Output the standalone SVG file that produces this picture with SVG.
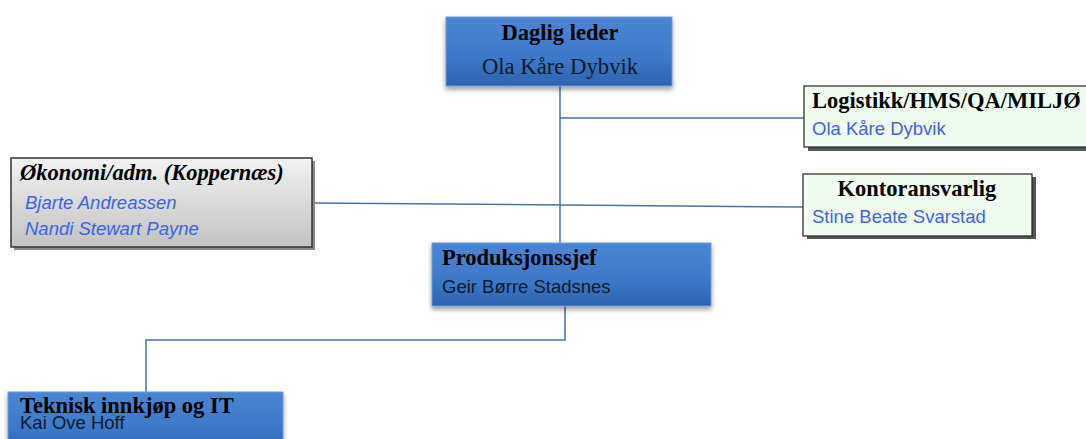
<svg xmlns="http://www.w3.org/2000/svg" width="1086" height="439" viewBox="0 0 1086 439">
<defs>
<linearGradient id="blue" x1="0" y1="0" x2="0" y2="1">
<stop offset="0" stop-color="#4b86d2"/>
<stop offset="0.6" stop-color="#3d78c8"/>
<stop offset="1" stop-color="#2d62ae"/>
</linearGradient>
<linearGradient id="gray" x1="0" y1="0" x2="0" y2="1">
<stop offset="0" stop-color="#f2f2f2"/>
<stop offset="1" stop-color="#c2c2c2"/>
</linearGradient>
<filter id="soft" x="-10%" y="-10%" width="120%" height="140%">
<feGaussianBlur in="SourceAlpha" stdDeviation="2.5"/>
<feOffset dx="0" dy="3" result="b"/>
<feComponentTransfer><feFuncA type="linear" slope="0.4"/></feComponentTransfer>
<feMerge><feMergeNode/><feMergeNode in="SourceGraphic"/></feMerge>
</filter>
</defs>
<style>
.bluebox{fill:url(#blue);stroke:#6f9ad6;stroke-width:1;filter:url(#soft)}
.greenbox{fill:#f0fcef;stroke:#222;stroke-width:1.2}
.graybox{fill:url(#gray);stroke:#333;stroke-width:1.5}
.shadow{fill:#555}
.gshadow{fill:#888}
.title{font-family:"Liberation Serif","Times New Roman",serif;font-weight:bold;font-size:22.5px;fill:#000}
.serif{font-family:"Liberation Serif","Times New Roman",serif;font-size:22.7px;fill:#0d1a30}
.sans{font-family:"Liberation Sans",Arial,sans-serif;font-size:18.5px}
.dark{fill:#0d1a30}
.bluet{fill:#3f63e6}
.conn{stroke:#4a70aa;stroke-width:1.5;fill:none}
</style>
<g id="connectors">
<line class="conn" x1="560" y1="86" x2="560" y2="243"/>
<line class="conn" x1="560" y1="118" x2="804" y2="118"/>
<line class="conn" x1="312" y1="203" x2="804" y2="207"/>
<polyline class="conn" points="565,306 565,340 146,340 146,392"/>
</g>
<g id="daglig-leder">
<rect class="bluebox" x="446" y="17" width="226" height="69"/>
<text class="title" x="560" y="40" text-anchor="middle">Daglig leder</text>
<text class="serif" x="560" y="74" text-anchor="middle">Ola Kåre Dybvik</text>
</g>
<g id="logistikk">
<rect class="shadow" x="808" y="89" width="282" height="62"/>
<rect class="greenbox" x="804" y="86" width="286" height="61"/>
<text class="title" x="812" y="108" font-size="23.8">Logistikk/HMS/QA/MILJØ</text>
<text class="sans bluet" x="812" y="135">Ola Kåre Dybvik</text>
</g>
<g id="okonomi">
<rect class="gshadow" x="14" y="161" width="301" height="89"/>
<rect class="graybox" x="11" y="158" width="301" height="89"/>
<text class="title" x="20" y="180" font-style="italic">Økonomi/adm. (Koppernæs)</text>
<text class="sans bluet" x="25" y="209" font-style="italic">Bjarte Andreassen</text>
<text class="sans bluet" x="25" y="235" font-style="italic">Nandi Stewart Payne</text>
</g>
<g id="kontoransvarlig">
<rect class="shadow" x="807" y="177" width="229" height="62"/>
<rect class="greenbox" x="803" y="174" width="229" height="62"/>
<text class="title" x="917" y="196" text-anchor="middle">Kontoransvarlig</text>
<text class="sans bluet" x="812" y="223">Stine Beate Svarstad</text>
</g>
<g id="produksjonssjef">
<rect class="bluebox" x="432" y="243" width="279" height="63"/>
<text class="title" x="442" y="265">Produksjonssjef</text>
<text class="sans dark" x="442" y="293">Geir Børre Stadsnes</text>
</g>
<g id="teknisk">
<rect class="bluebox" x="8" y="392" width="275" height="60"/>
<text class="title" x="20" y="413">Teknisk innkjøp og IT</text>
<text class="sans dark" x="20" y="429">Kai Ove Hoff</text>
</g>
</svg>
